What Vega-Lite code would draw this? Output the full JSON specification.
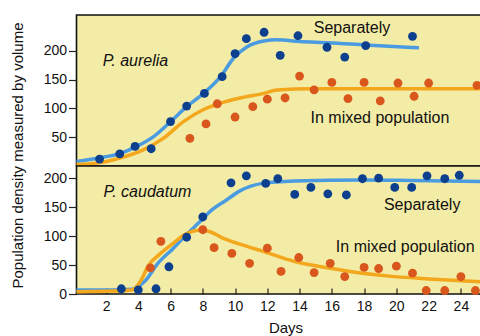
{
  "$schema": "https://vega.github.io/schema/vega-lite/v6.json",
  "padding": {"left": 9.5, "top": 14, "right": 0, "bottom": 0},
  "background": "white",
  "spacing": 0,
  "bounds": "flush",
  "config": {
    "view": {"fill": "#f3eca6", "stroke": "#111111", "strokeWidth": 1.6},
    "font": "Liberation Sans",
    "axis": {
      "labelFont": "Liberation Sans", "labelFontSize": 14, "labelColor": "#111111",
      "titleFont": "Liberation Sans", "titleFontSize": 15, "titleFontWeight": "normal", "titleColor": "#111111",
      "tickColor": "#222222", "tickWidth": 1.2, "domain": false, "grid": false
    },
    "text": {"font": "Liberation Sans", "fontSize": 16, "fill": "#111111"}
  },
  "datasets": {
    "aurPts": [
      {"day": 1.6, "density": 12, "series": "Separately"},
      {"day": 2.85, "density": 21, "series": "Separately"},
      {"day": 3.8, "density": 34, "series": "Separately"},
      {"day": 4.8, "density": 30, "series": "Separately"},
      {"day": 6.0, "density": 77, "series": "Separately"},
      {"day": 7.0, "density": 104, "series": "Separately"},
      {"day": 8.1, "density": 126, "series": "Separately"},
      {"day": 9.2, "density": 155, "series": "Separately"},
      {"day": 10.0, "density": 195, "series": "Separately"},
      {"day": 10.7, "density": 221, "series": "Separately"},
      {"day": 11.8, "density": 232, "series": "Separately"},
      {"day": 12.8, "density": 192, "series": "Separately"},
      {"day": 13.9, "density": 226, "series": "Separately"},
      {"day": 15.7, "density": 206, "series": "Separately"},
      {"day": 16.8, "density": 189, "series": "Separately"},
      {"day": 18.1, "density": 209, "series": "Separately"},
      {"day": 21.0, "density": 225, "series": "Separately"},
      {"day": 7.2, "density": 48, "series": "Mixed"},
      {"day": 8.2, "density": 73, "series": "Mixed"},
      {"day": 8.9, "density": 108, "series": "Mixed"},
      {"day": 10.0, "density": 85, "series": "Mixed"},
      {"day": 11.1, "density": 103, "series": "Mixed"},
      {"day": 12.0, "density": 116, "series": "Mixed"},
      {"day": 13.1, "density": 118, "series": "Mixed"},
      {"day": 14.0, "density": 156, "series": "Mixed"},
      {"day": 14.9, "density": 132, "series": "Mixed"},
      {"day": 16.0, "density": 145, "series": "Mixed"},
      {"day": 17.0, "density": 117, "series": "Mixed"},
      {"day": 18.0, "density": 145, "series": "Mixed"},
      {"day": 19.0, "density": 113, "series": "Mixed"},
      {"day": 20.1, "density": 144, "series": "Mixed"},
      {"day": 21.1, "density": 121, "series": "Mixed"},
      {"day": 22.0, "density": 144, "series": "Mixed"},
      {"day": 25.0, "density": 140, "series": "Mixed"}
    ],
    "aurFit": [
      {"day": 0.17, "density": 8, "series": "Separately"},
      {"day": 1.55, "density": 14, "series": "Separately"},
      {"day": 2.9, "density": 22, "series": "Separately"},
      {"day": 3.9, "density": 34, "series": "Separately"},
      {"day": 4.95, "density": 51, "series": "Separately"},
      {"day": 6.0, "density": 77, "series": "Separately"},
      {"day": 7.0, "density": 103, "series": "Separately"},
      {"day": 8.05, "density": 126, "series": "Separately"},
      {"day": 9.1, "density": 155, "series": "Separately"},
      {"day": 9.9, "density": 187, "series": "Separately"},
      {"day": 10.75, "density": 207, "series": "Separately"},
      {"day": 11.8, "density": 217, "series": "Separately"},
      {"day": 12.6, "density": 219, "series": "Separately"},
      {"day": 14.0, "density": 216, "series": "Separately"},
      {"day": 15.8, "density": 214, "series": "Separately"},
      {"day": 18.1, "density": 210, "series": "Separately"},
      {"day": 21.4, "density": 205, "series": "Separately"},
      {"day": 0.17, "density": 3, "series": "Mixed"},
      {"day": 1.45, "density": 5, "series": "Mixed"},
      {"day": 2.9, "density": 14, "series": "Mixed"},
      {"day": 4.3, "density": 28, "series": "Mixed"},
      {"day": 5.55, "density": 48, "series": "Mixed"},
      {"day": 6.8, "density": 77, "series": "Mixed"},
      {"day": 8.05, "density": 98, "series": "Mixed"},
      {"day": 9.1, "density": 109, "series": "Mixed"},
      {"day": 10.5, "density": 119, "series": "Mixed"},
      {"day": 11.8, "density": 126, "series": "Mixed"},
      {"day": 12.6, "density": 132, "series": "Mixed"},
      {"day": 14.8, "density": 134, "series": "Mixed"},
      {"day": 20.0, "density": 134, "series": "Mixed"},
      {"day": 25.34, "density": 134, "series": "Mixed"}
    ],
    "cauPts": [
      {"day": 2.95, "density": 9, "series": "Separately"},
      {"day": 4.0, "density": 7, "series": "Separately"},
      {"day": 5.1, "density": 9, "series": "Separately"},
      {"day": 5.9, "density": 47, "series": "Separately"},
      {"day": 7.0, "density": 98, "series": "Separately"},
      {"day": 8.0, "density": 133, "series": "Separately"},
      {"day": 9.75, "density": 192, "series": "Separately"},
      {"day": 10.7, "density": 204, "series": "Separately"},
      {"day": 11.9, "density": 191, "series": "Separately"},
      {"day": 12.65, "density": 199, "series": "Separately"},
      {"day": 13.7, "density": 172, "series": "Separately"},
      {"day": 14.7, "density": 184, "series": "Separately"},
      {"day": 15.75, "density": 173, "series": "Separately"},
      {"day": 16.9, "density": 171, "series": "Separately"},
      {"day": 17.9, "density": 199, "series": "Separately"},
      {"day": 18.9, "density": 200, "series": "Separately"},
      {"day": 19.9, "density": 184, "series": "Separately"},
      {"day": 20.95, "density": 184, "series": "Separately"},
      {"day": 21.9, "density": 204, "series": "Separately"},
      {"day": 23.0, "density": 199, "series": "Separately"},
      {"day": 23.9, "density": 205, "series": "Separately"},
      {"day": 4.75, "density": 45, "series": "Mixed"},
      {"day": 5.4, "density": 91, "series": "Mixed"},
      {"day": 8.0, "density": 111, "series": "Mixed"},
      {"day": 8.7, "density": 80, "series": "Mixed"},
      {"day": 9.8, "density": 70, "series": "Mixed"},
      {"day": 10.9, "density": 53, "series": "Mixed"},
      {"day": 12.0, "density": 79, "series": "Mixed"},
      {"day": 12.85, "density": 39, "series": "Mixed"},
      {"day": 13.95, "density": 63, "series": "Mixed"},
      {"day": 14.9, "density": 37, "series": "Mixed"},
      {"day": 15.9, "density": 53, "series": "Mixed"},
      {"day": 16.8, "density": 30, "series": "Mixed"},
      {"day": 18.0, "density": 46, "series": "Mixed"},
      {"day": 18.9, "density": 44, "series": "Mixed"},
      {"day": 20.0, "density": 48, "series": "Mixed"},
      {"day": 21.0, "density": 36, "series": "Mixed"},
      {"day": 21.85, "density": 6, "series": "Mixed"},
      {"day": 23.0, "density": 6, "series": "Mixed"},
      {"day": 24.0, "density": 30, "series": "Mixed"},
      {"day": 24.9, "density": 6, "series": "Mixed"}
    ],
    "cauFit": [
      {"day": 0.17, "density": 7, "series": "Separately"},
      {"day": 2.35, "density": 7, "series": "Separately"},
      {"day": 3.6, "density": 8, "series": "Separately"},
      {"day": 4.4, "density": 22, "series": "Separately"},
      {"day": 5.25, "density": 54, "series": "Separately"},
      {"day": 6.1, "density": 77, "series": "Separately"},
      {"day": 6.9, "density": 100, "series": "Separately"},
      {"day": 7.75, "density": 123, "series": "Separately"},
      {"day": 8.6, "density": 146, "series": "Separately"},
      {"day": 9.4, "density": 161, "series": "Separately"},
      {"day": 10.3, "density": 178, "series": "Separately"},
      {"day": 11.7, "density": 191, "series": "Separately"},
      {"day": 13.7, "density": 195, "series": "Separately"},
      {"day": 17.9, "density": 197, "series": "Separately"},
      {"day": 21.0, "density": 196, "series": "Separately"},
      {"day": 25.34, "density": 194, "series": "Separately"},
      {"day": 0.17, "density": 4, "series": "Mixed"},
      {"day": 2.35, "density": 5, "series": "Mixed"},
      {"day": 3.6, "density": 7, "series": "Mixed"},
      {"day": 4.2, "density": 25, "series": "Mixed"},
      {"day": 4.6, "density": 48, "series": "Mixed"},
      {"day": 5.3, "density": 68, "series": "Mixed"},
      {"day": 6.1, "density": 86, "series": "Mixed"},
      {"day": 6.9, "density": 103, "series": "Mixed"},
      {"day": 7.85, "density": 110, "series": "Mixed"},
      {"day": 8.4, "density": 108, "series": "Mixed"},
      {"day": 9.2, "density": 97, "series": "Mixed"},
      {"day": 10.3, "density": 86, "series": "Mixed"},
      {"day": 11.7, "density": 74, "series": "Mixed"},
      {"day": 13.7, "density": 56, "series": "Mixed"},
      {"day": 15.8, "density": 45, "series": "Mixed"},
      {"day": 17.9, "density": 36, "series": "Mixed"},
      {"day": 19.9, "density": 30, "series": "Mixed"},
      {"day": 22.0, "density": 26, "series": "Mixed"},
      {"day": 25.34, "density": 21, "series": "Mixed"}
    ],
    "aurText": [
      {"day": 1.79, "density": 183, "label": "P. aurelia", "kind": "species"},
      {"day": 17.25, "density": 240, "label": "Separately", "kind": "note"},
      {"day": 18.98, "density": 83, "label": "In mixed population", "kind": "note"}
    ],
    "cauText": [
      {"day": 1.85, "density": 176, "label": "P. caudatum", "kind": "species"},
      {"day": 21.6, "density": 153, "label": "Separately", "kind": "note"},
      {"day": 20.55, "density": 82, "label": "In mixed population", "kind": "note"}
    ]
  },
  "vconcat": [
    {
      "width": 406,
      "height": 151,
      "encoding": {
        "x": {"field": "day", "type": "quantitative", "scale": {"domain": [0.17, 25.34], "nice": false, "zero": false}, "axis": null},
        "y": {"field": "density", "type": "quantitative", "scale": {"domain": [0, 262], "nice": false},
              "axis": {"values": [50, 100, 150, 200], "title": null, "tickSize": 8, "labelPadding": 2}}
      },
      "layer": [
        {"data": {"name": "aurFit"}, "transform": [{"filter": "datum.series === 'Separately'"}],
         "mark": {"type": "line", "interpolate": "monotone", "color": "#4b9be0", "strokeWidth": 3.5}},
        {"data": {"name": "aurFit"}, "transform": [{"filter": "datum.series === 'Mixed'"}],
         "mark": {"type": "line", "interpolate": "monotone", "color": "#f3a71c", "strokeWidth": 3.5}},
        {"data": {"name": "aurPts"}, "transform": [{"filter": "datum.series === 'Separately'"}],
         "mark": {"type": "circle", "color": "#0c3f8e", "opacity": 1, "size": 78}},
        {"data": {"name": "aurPts"}, "transform": [{"filter": "datum.series === 'Mixed'"}],
         "mark": {"type": "circle", "color": "#d9561d", "opacity": 1, "size": 78}},
        {"data": {"name": "aurText"}, "transform": [{"filter": "datum.kind === 'species'"}],
         "mark": {"type": "text", "align": "left", "baseline": "middle", "fontStyle": "italic"},
         "encoding": {"text": {"field": "label"}}},
        {"data": {"name": "aurText"}, "transform": [{"filter": "datum.kind === 'note'"}],
         "mark": {"type": "text", "align": "center", "baseline": "middle"},
         "encoding": {"text": {"field": "label"}}}
      ]
    },
    {
      "width": 406,
      "height": 128,
      "encoding": {
        "x": {"field": "day", "type": "quantitative", "scale": {"domain": [0.17, 25.34], "nice": false, "zero": false},
              "axis": {"values": [2, 4, 6, 8, 10, 12, 14, 16, 18, 20, 22, 24], "title": "Days", "tickSize": -6, "labelPadding": 11,
                       "titleX": 209, "titleY": 26, "titleBaseline": "top", "titleFontSize": 15}},
        "y": {"field": "density", "type": "quantitative", "scale": {"domain": [0, 221], "nice": false},
              "axis": {"values": [0, 50, 100, 150, 200], "title": "Population density measured by volume", "tickSize": 8, "labelPadding": 2,
                       "titleX": -51, "titleY": -11, "titleAngle": -90, "titleBaseline": "bottom", "titleAlign": "center"}}
      },
      "layer": [
        {"data": {"name": "cauFit"}, "transform": [{"filter": "datum.series === 'Separately'"}],
         "mark": {"type": "line", "interpolate": "monotone", "color": "#4b9be0", "strokeWidth": 3.5}},
        {"data": {"name": "cauFit"}, "transform": [{"filter": "datum.series === 'Mixed'"}],
         "mark": {"type": "line", "interpolate": "monotone", "color": "#f3a71c", "strokeWidth": 3.5}},
        {"data": {"name": "cauPts"}, "transform": [{"filter": "datum.series === 'Separately'"}],
         "mark": {"type": "circle", "color": "#0c3f8e", "opacity": 1, "size": 78}},
        {"data": {"name": "cauPts"}, "transform": [{"filter": "datum.series === 'Mixed'"}],
         "mark": {"type": "circle", "color": "#d9561d", "opacity": 1, "size": 78}},
        {"data": {"name": "cauText"}, "transform": [{"filter": "datum.kind === 'species'"}],
         "mark": {"type": "text", "align": "left", "baseline": "middle", "fontStyle": "italic"},
         "encoding": {"text": {"field": "label"}}},
        {"data": {"name": "cauText"}, "transform": [{"filter": "datum.kind === 'note'"}],
         "mark": {"type": "text", "align": "center", "baseline": "middle"},
         "encoding": {"text": {"field": "label"}}}
      ]
    }
  ]
}
